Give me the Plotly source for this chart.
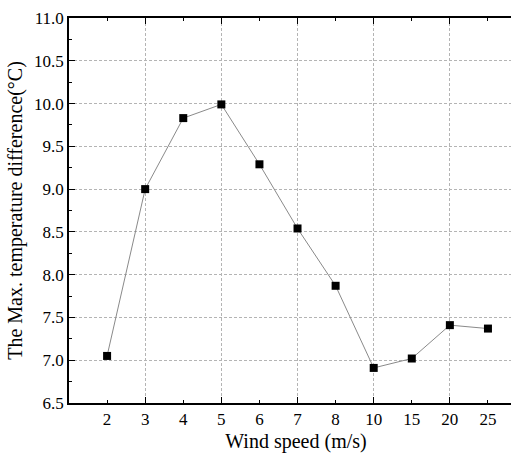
import plotly.graph_objects as go

wind_labels = ["2", "3", "4", "5", "6", "7", "8", "10", "15", "20", "25"]
max_temp_diff = [7.05, 9.00, 9.83, 9.99, 9.29, 8.54, 7.87, 6.91, 7.02, 7.41, 7.37]
y_ticks = [6.5, 7.0, 7.5, 8.0, 8.5, 9.0, 9.5, 10.0, 10.5, 11.0]

idx = list(range(1, len(wind_labels) + 1))
major_idx = [i for i in idx if i % 2 == 0]

FONT = "Liberation Serif"
GRID = "#b4b4b4"

fig = go.Figure()
fig.add_trace(go.Scatter(
    x=idx, y=max_temp_diff, mode="lines+markers",
    line=dict(color="#8a8a8a", width=1),
    marker=dict(symbol="square", size=8, color="black"),
    showlegend=False,
))

xr = [0, 11.92]
fig.update_layout(
    width=524, height=457, autosize=False,
    margin=dict(l=69, r=1, t=18, b=54),
    paper_bgcolor="white", plot_bgcolor="white",
    font=dict(family=FONT, size=17, color="black"),
    xaxis=dict(
        range=xr, tickmode="array", tickvals=idx, ticktext=wind_labels,
        ticks="inside", ticklen=3, tickwidth=1.2, tickcolor="black",
        showgrid=False, zeroline=False, automargin=False,
        minor=dict(tickvals=major_idx, ticks="inside", ticklen=6, tickcolor="black",
                   showgrid=True, gridcolor=GRID, gridwidth=1, griddash="3px,2px"),
        showline=True, linecolor="black", linewidth=1.5, mirror="ticks",
        title=dict(text="Wind speed (m/s)", font=dict(family=FONT, size=20, color="black"), standoff=6),
        tickfont=dict(family=FONT, size=17, color="black"),
    ),
    yaxis=dict(
        range=[6.5, 11.0], tickmode="array", tickvals=y_ticks,
        ticktext=[f"{v:.1f}" for v in y_ticks],
        ticks="inside", ticklen=6, tickwidth=1.2, tickcolor="black",
        minor=dict(dtick=0.25, tick0=6.5, ticks="inside", ticklen=3, tickcolor="black", showgrid=False),
        showgrid=True, gridcolor=GRID, gridwidth=1, griddash="3px,2px",
        zeroline=False, automargin=False,
        showline=True, linecolor="black", linewidth=1.5, mirror="ticks",
        title=dict(text="The Max. temperature difference(°C)", font=dict(family=FONT, size=20, color="black"), standoff=6),
        tickfont=dict(family=FONT, size=17, color="black"),
    ),
)

fig.write_html(
    "out.html",
    config={"responsive": False, "displayModeBar": False},
    post_script=(
        "document.documentElement.style.overflow='hidden';"
        "document.body.style.overflow='hidden';"
        "document.body.style.margin='0';"
    ),
)
